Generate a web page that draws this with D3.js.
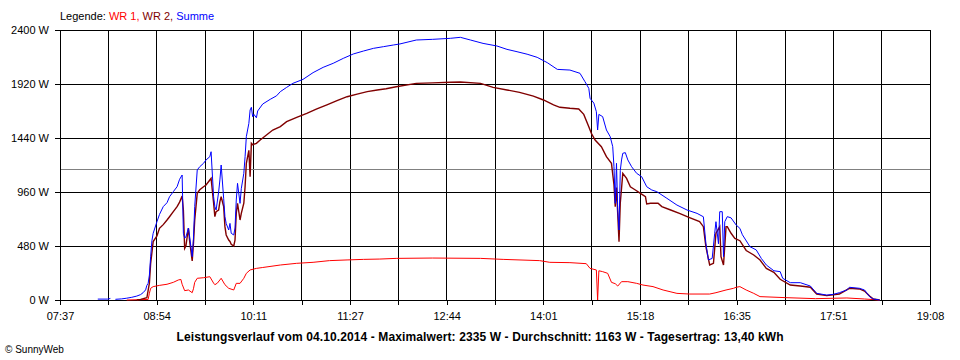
<!DOCTYPE html>
<html>
<head>
<meta charset="utf-8">
<script src="https://cdn.jsdelivr.net/npm/d3@7"></script>
<style>
body { margin: 0; background: #fff; }
text { font-family: "Liberation Sans", Arial, sans-serif; }
</style>
</head>
<body>
<script>
// values, 04.10.2014
var xTickLabels = ["07:37","08:54","10:11","11:27","12:44","14:01","15:18","16:35","17:51","19:08"];
var yTicks = [0, 480, 960, 1440, 1920, 2400];
var average = 1163;

var wr1 = [["08:30",0],["08:47",5],["08:48",60],["08:49",104],["08:51",119],["08:56",130],["09:02",140],["09:07",157],
  ["09:11",178],["09:13",183],["09:14",140],["09:16",83],["09:19",89],["09:22",65],["09:23",100],["09:24",157],["09:26",193],
  ["09:31",198],["09:36",207],["09:39",150],["09:40",136],["09:42",150],["09:45",193],["09:48",136],["09:51",104],["09:55",89],
  ["09:57",148],["10:00",148],["10:03",193],["10:05",237],["10:08",267],["10:13",281],["10:18",289],["10:32",311],["10:45",326],
  ["10:58",335],["11:11",350],["11:25",356],["11:38",361],["11:51",364],["12:04",370],["12:33",373],["13:11",370],["13:29",361],
  ["13:58",350],["14:06",335],["14:22",332],["14:35",323],["14:38",281],["14:43",267],["14:44",0],["14:45",260],["14:48",252],
  ["14:52",237],["14:55",157],["14:58",145],["15:00",124],["15:03",163],["15:08",163],["15:15",148],["15:20",133],["15:28",119],
  ["15:36",89],["15:47",59],["15:57",53],["16:13",53],["16:18",65],["16:26",89],["16:32",104],["16:34",113],["16:37",119],
  ["16:42",89],["16:48",59],["16:53",30],["17:13",21],["17:37",12],["18:02",18],["18:16",9],["18:28",0]];

var wr2 = [["08:38",0],["08:41",5],["08:46",20],["08:48",150],["08:49",326],["08:50",420],["08:51",519],["08:54",570],
  ["08:56",637],["08:59",670],["09:02",711],["09:04",740],["09:07",785],["09:10",830],["09:12",870],["09:14",924],["09:15",800],
  ["09:16",459],["09:17",480],["09:19",640],["09:20",520],["09:22",347],["09:23",500],["09:24",711],["09:26",948],["09:28",980],
  ["09:31",1007],["09:33",1022],["09:36",1067],["09:37",1081],["09:39",862],["09:40",741],["09:41",785],["09:43",800],
  ["09:44",874],["09:45",918],["09:47",830],["09:48",652],["09:49",578],["09:51",533],["09:52",520],["09:53",495],["09:55",480],
  ["09:56",533],["09:57",770],["09:58",860],["10:00",711],["10:01",770],["10:03",860],["10:04",1007],["10:05",1215],
  ["10:07",1330],["10:08",1096],["10:09",1393],["10:10",1380],["10:13",1393],["10:16",1422],["10:21",1467],["10:26",1511],
  ["10:32",1541],["10:37",1585],["10:45",1624],["10:53",1659],["11:01",1698],["11:09",1735],["11:17",1772],["11:25",1807],
  ["11:33",1830],["11:41",1852],["11:49",1867],["11:56",1878],["12:04",1896],["12:20",1926],["12:33",1930],["12:47",1935],
  ["12:55",1938],["13:11",1926],["13:21",1890],["13:32",1867],["13:42",1846],["13:53",1812],["14:01",1778],["14:09",1735],
  ["14:14",1713],["14:22",1704],["14:29",1698],["14:33",1650],["14:37",1541],["14:39",1482],["14:42",1422],["14:47",1363],
  ["14:51",1274],["14:55",1215],["14:57",1022],["14:58",830],["14:59",1000],["15:01",519],["15:02",860],["15:04",1126],
  ["15:07",1081],["15:10",1007],["15:14",978],["15:18",948],["15:22",918],["15:23",853],["15:26",860],["15:32",860],
  ["15:35",830],["15:42",800],["15:49",770],["15:57",732],["16:05",696],["16:08",652],["16:10",474],["16:13",311],
  ["16:16",326],["16:18",593],["16:21",652],["16:22",385],["16:24",311],["16:26",652],["16:27",652],["16:30",593],
  ["16:33",548],["16:37",527],["16:42",440],["16:48",400],["16:53",355],["16:58",281],["17:04",246],["17:09",184],
  ["17:17",133],["17:25",124],["17:33",113],["17:38",53],["17:46",39],["17:56",53],["18:04",104],["18:12",98],["18:16",80],
  ["18:20",36],["18:23",9],["18:28",0]];

var summe = [["07:53",6],["07:55",null],["08:07",8],["08:15",8],["08:17",14],["08:19",null],["08:21",6],["08:26",10],
  ["08:30",16],["08:34",24],["08:38",35],["08:41",48],["08:43",65],["08:45",90],["08:46",130],["08:47",148],["08:48",222],
  ["08:49",385],["08:50",527],["08:51",593],["08:54",696],["08:56",760],["08:59",830],["09:02",865],["09:04",918],["09:07",963],
  ["09:10",1007],["09:12",1073],["09:14",1111],["09:15",593],["09:16",550],["09:17",560],["09:19",640],["09:20",560],
  ["09:22",385],["09:23",550],["09:24",830],["09:26",1156],["09:28",1185],["09:31",1215],["09:33",1245],["09:36",1274],
  ["09:37",1318],["09:39",918],["09:40",830],["09:41",800],["09:43",960],["09:44",1067],["09:45",1200],["09:47",900],
  ["09:48",741],["09:49",680],["09:51",622],["09:52",681],["09:53",593],["09:55",578],["09:56",640],["09:57",889],
  ["09:58",1037],["10:00",859],["10:01",990],["10:03",1126],["10:04",1274],["10:05",1452],["10:07",1570],["10:08",1689],
  ["10:09",1713],["10:10",1630],["10:11",1650],["10:13",1620],["10:14",1680],["10:18",1742],["10:24",1784],["10:29",1815],
  ["10:32",1852],["10:37",1890],["10:42",1926],["10:50",1961],["10:58",2021],["11:06",2068],["11:14",2104],["11:22",2148],
  ["11:30",2187],["11:38",2213],["11:46",2237],["11:54",2252],["12:02",2267],["12:07",2276],["12:20",2311],["12:33",2317],
  ["12:47",2326],["12:55",2335],["13:03",2311],["13:13",2281],["13:24",2258],["13:32",2228],["13:40",2207],["13:48",2185],
  ["13:56",2157],["14:04",2110],["14:12",2050],["14:22",2044],["14:30",2015],["14:34",1940],["14:37",1881],["14:38",1793],
  ["14:41",1750],["14:43",1674],["14:44",1511],["14:45",1650],["14:48",1630],["14:51",1511],["14:54",1452],["14:56",1363],
  ["14:57",1185],["14:58",859],["14:59",1215],["15:00",800],["15:01",622],["15:02",1150],["15:03",1245],["15:04",1304],
  ["15:06",1310],["15:08",1245],["15:11",1185],["15:15",1126],["15:19",1096],["15:23",1007],["15:27",978],["15:31",963],
  ["15:39",904],["15:47",844],["15:55",800],["16:03",770],["16:08",740],["16:10",504],["16:12",356],["16:15",370],
  ["16:17",593],["16:18",696],["16:20",500],["16:21",785],["16:23",785],["16:24",385],["16:25",696],["16:27",741],
  ["16:30",730],["16:34",667],["16:37",637],["16:39",580],["16:45",474],["16:50",445],["16:54",370],["16:58",311],
  ["17:04",260],["17:09",252],["17:11",193],["17:17",154],["17:25",154],["17:33",124],["17:38",59],["17:46",44],
  ["17:51",50],["17:56",65],["18:02",89],["18:04",113],["18:12",104],["18:16",89],["18:20",30],["18:23",9],["18:28",0]];

var w = 960, h = 360;
var plotL = 60, plotR = 930, plotT = 30, plotB = 300;

function toMin(s) { var p = s.split(":"); return +p[0] * 60 + +p[1]; }

var svg = d3.select("body").append("svg").attr("width", w).attr("height", h)
  .style("background", "#fff");

var t0 = toMin(xTickLabels[0]), t1 = toMin(xTickLabels[xTickLabels.length - 1]);
var x = d3.scaleLinear().domain([t0, t1]).range([plotL, plotR]);
var y = d3.scaleLinear().domain([0, 2400]).range([plotB, plotT]);
var xTicks = d3.range(19).map(function(i) { return t0 + i * (t1 - t0) / 18; });

// grid
var grid = svg.append("g").attr("shape-rendering", "crispEdges").attr("stroke", "#000");
grid.selectAll(".hg").data(yTicks).enter().append("line")
  .attr("x1", plotL).attr("x2", plotR)
  .attr("y1", function(d) { return y(d); }).attr("y2", function(d) { return y(d); });
grid.selectAll(".vg").data(xTicks).enter().append("line")
  .attr("y1", plotT).attr("y2", plotB)
  .attr("x1", function(d) { return x(d); }).attr("x2", function(d) { return x(d); });

svg.append("line").attr("shape-rendering", "crispEdges")
  .attr("x1", plotL + 1).attr("x2", plotR)
  .attr("y1", y(average)).attr("y2", y(average))
  .attr("stroke", "#808080");

// axes
var yAxis = svg.append("g").attr("transform", "translate(" + plotL + ",0)")
  .call(d3.axisLeft(y).tickValues(yTicks).tickSize(5).tickPadding(6)
    .tickFormat(function(d) { return d + " W"; }));
var xAxis = svg.append("g").attr("transform", "translate(0," + plotB + ")")
  .call(d3.axisBottom(x).tickValues(xTicks).tickSize(5).tickPadding(7)
    .tickFormat(function(d, i) { return i % 2 === 0 ? xTickLabels[i / 2] : ""; }));
[yAxis, xAxis].forEach(function(a) {
  a.attr("shape-rendering", "crispEdges");
  a.selectAll("path, line").attr("stroke", "#000");
  a.selectAll("text").attr("fill", "#000").style("font-size", "11px")
    .style("font-family", "'Liberation Sans', Arial, sans-serif");
  a.select(".domain").remove();
});

// series
var line = d3.line()
  .defined(function(d) { return d[1] != null; })
  .x(function(d) { return x(toMin(d[0])); })
  .y(function(d) { return y(d[1]); });

[[wr1, "#ff0000", 1], [wr2, "#800000", 1.4], [summe, "#0000ff", 1]].forEach(function(s) {
  svg.append("path").datum(s[0])
    .attr("fill", "none").attr("stroke", s[1]).attr("stroke-width", s[2])
    .attr("stroke-linejoin", "miter")
    .attr("d", line);
});

// legend and captions
var leg = svg.append("text").attr("x", plotL).attr("y", 20).style("font-size", "11px");
leg.append("tspan").attr("fill", "#000").text("Legende: ");
leg.append("tspan").attr("fill", "#ff0000").text("WR 1, ");
leg.append("tspan").attr("fill", "#800000").text("WR 2, ");
leg.append("tspan").attr("fill", "#0000ff").text("Summe");

svg.append("text").attr("x", 480).attr("y", 341).attr("text-anchor", "middle")
  .attr("textLength", 607).attr("lengthAdjust", "spacing")
  .style("font-size", "12px").style("font-weight", "bold")
  .text("Leistungsverlauf vom 04.10.2014 - Maximalwert: 2335 W - Durchschnitt: 1163 W - Tagesertrag: 13,40 kWh");

svg.append("text").attr("x", 5).attr("y", 353).style("font-size", "10px")
  .text("\u00a9 SunnyWeb");
</script>
</body>
</html>
